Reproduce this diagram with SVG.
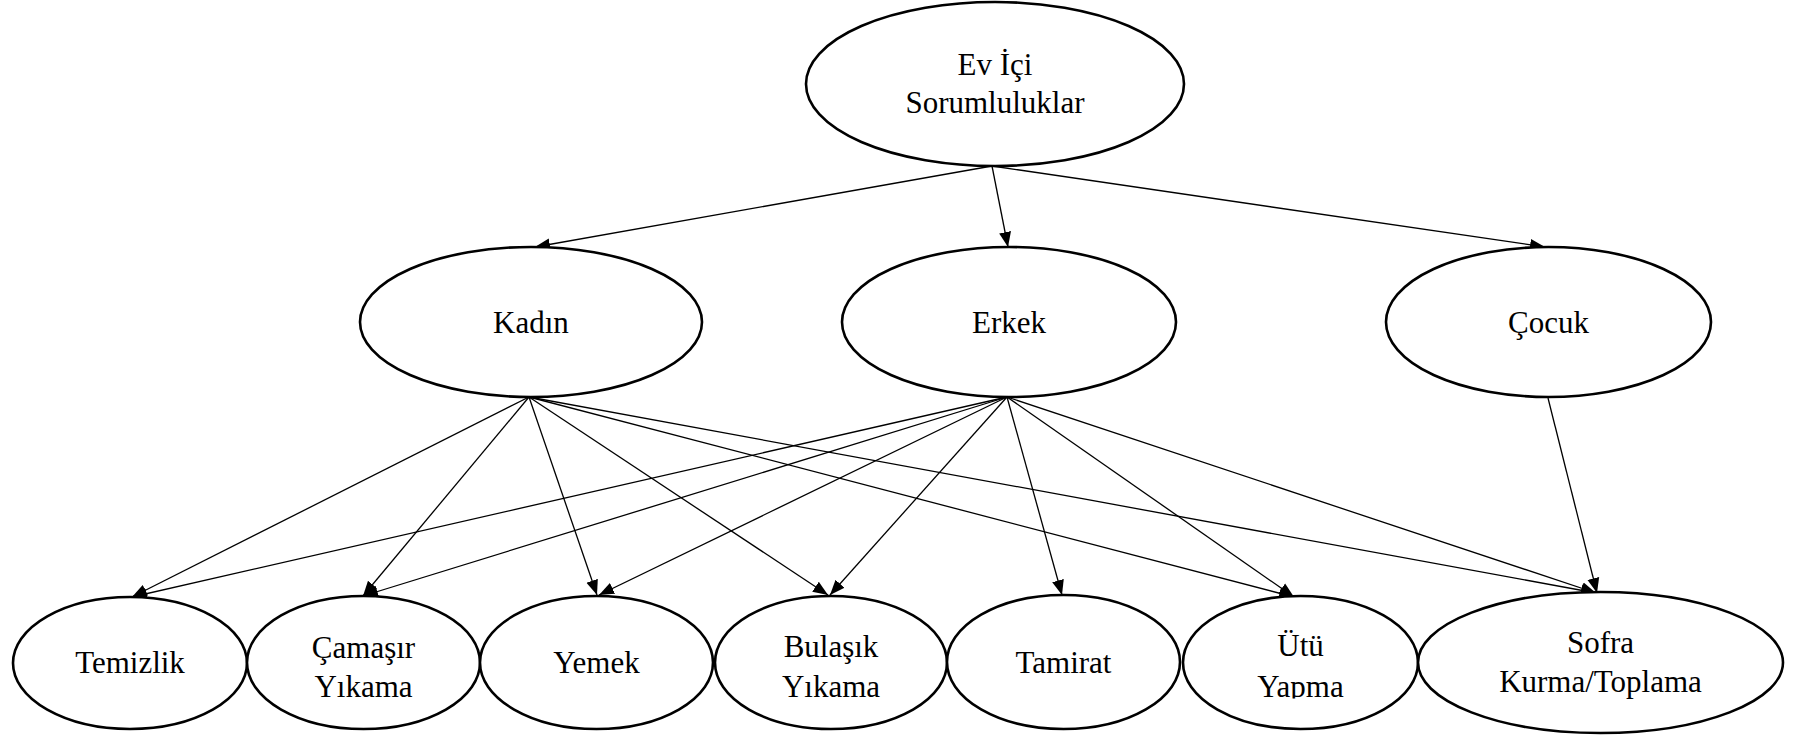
<svg xmlns="http://www.w3.org/2000/svg" width="1802" height="736" viewBox="0 0 1802 736">
<style>
.n ellipse{fill:#fff;stroke:#000;stroke-width:2.6}
.n text{font-family:"Liberation Serif","Times New Roman",serif;font-size:31px;fill:#000;text-anchor:middle}
.e line{stroke:#000;stroke-width:1.3;marker-end:url(#ah)}
</style>
<defs>
<marker id="ah" markerUnits="userSpaceOnUse" markerWidth="16" markerHeight="13" refX="15" refY="6" orient="auto" viewBox="0 0 16 12">
<path d="M0,0 L15,6 L0,12 z" fill="#000"/>
</marker>
<clipPath id="clipUtu"><rect x="1180" y="600" width="240" height="98.5"/></clipPath>
</defs>
<rect width="1802" height="736" fill="#fff"/>
<g class="e" id="connectors">
<line x1="992" y1="166" x2="535" y2="247"/>
<line x1="992" y1="166" x2="1008" y2="247"/>
<line x1="992" y1="166" x2="1545" y2="247"/>
<line x1="529" y1="397" x2="132" y2="597"/>
<line x1="529" y1="397" x2="363" y2="596"/>
<line x1="529" y1="397" x2="597" y2="595"/>
<line x1="529" y1="397" x2="828" y2="595"/>
<line x1="529" y1="397" x2="1294" y2="597"/>
<line x1="529" y1="397" x2="1596" y2="593"/>
<line x1="1007" y1="397" x2="132" y2="597"/>
<line x1="1007" y1="397" x2="363" y2="596"/>
<line x1="1007" y1="397" x2="599" y2="595"/>
<line x1="1007" y1="397" x2="830" y2="595"/>
<line x1="1007" y1="397" x2="1062" y2="595"/>
<line x1="1007" y1="397" x2="1294" y2="597"/>
<line x1="1007" y1="397" x2="1596" y2="593"/>
<line x1="1548" y1="398" x2="1597" y2="593"/>
</g>
<g class="n" id="n-root"><ellipse cx="995" cy="84" rx="189" ry="82"/><text x="995" y="75">Ev İçi</text><text x="995" y="113">Sorumluluklar</text></g>
<g class="n" id="n-kadin"><ellipse cx="531" cy="322" rx="171" ry="75"/><text x="531" y="333">Kadın</text></g>
<g class="n" id="n-erkek"><ellipse cx="1009" cy="322" rx="167" ry="75"/><text x="1009" y="333">Erkek</text></g>
<g class="n" id="n-cocuk"><ellipse cx="1548.5" cy="322" rx="162.5" ry="75"/><text x="1548.5" y="333">Çocuk</text></g>
<g class="n" id="n-temizlik"><ellipse cx="130" cy="663" rx="117" ry="66"/><text x="130" y="673">Temizlik</text></g>
<g class="n" id="n-camasir"><ellipse cx="363.5" cy="662.5" rx="116.5" ry="66.5"/><text x="363.5" y="658">Çamaşır</text><text x="363.5" y="697">Yıkama</text></g>
<g class="n" id="n-yemek"><ellipse cx="596.5" cy="662.5" rx="116.5" ry="66.5"/><text x="596.5" y="673">Yemek</text></g>
<g class="n" id="n-bulasik"><ellipse cx="831" cy="662.5" rx="116" ry="66.5"/><text x="831" y="657">Bulaşık</text><text x="831" y="697">Yıkama</text></g>
<g class="n" id="n-tamirat"><ellipse cx="1063.5" cy="662" rx="116.5" ry="67"/><text x="1063.5" y="673">Tamirat</text></g>
<g class="n" id="n-utu"><ellipse cx="1300.5" cy="662.5" rx="117.5" ry="66.5"/><g clip-path="url(#clipUtu)"><text x="1300.5" y="656">Ütü</text><text x="1300.5" y="697">Yapma</text></g></g>
<g class="n" id="n-sofra"><ellipse cx="1600.5" cy="662.5" rx="182.5" ry="70.5"/><text x="1600.5" y="653">Sofra</text><text x="1600.5" y="692">Kurma/Toplama</text></g>
</svg>
